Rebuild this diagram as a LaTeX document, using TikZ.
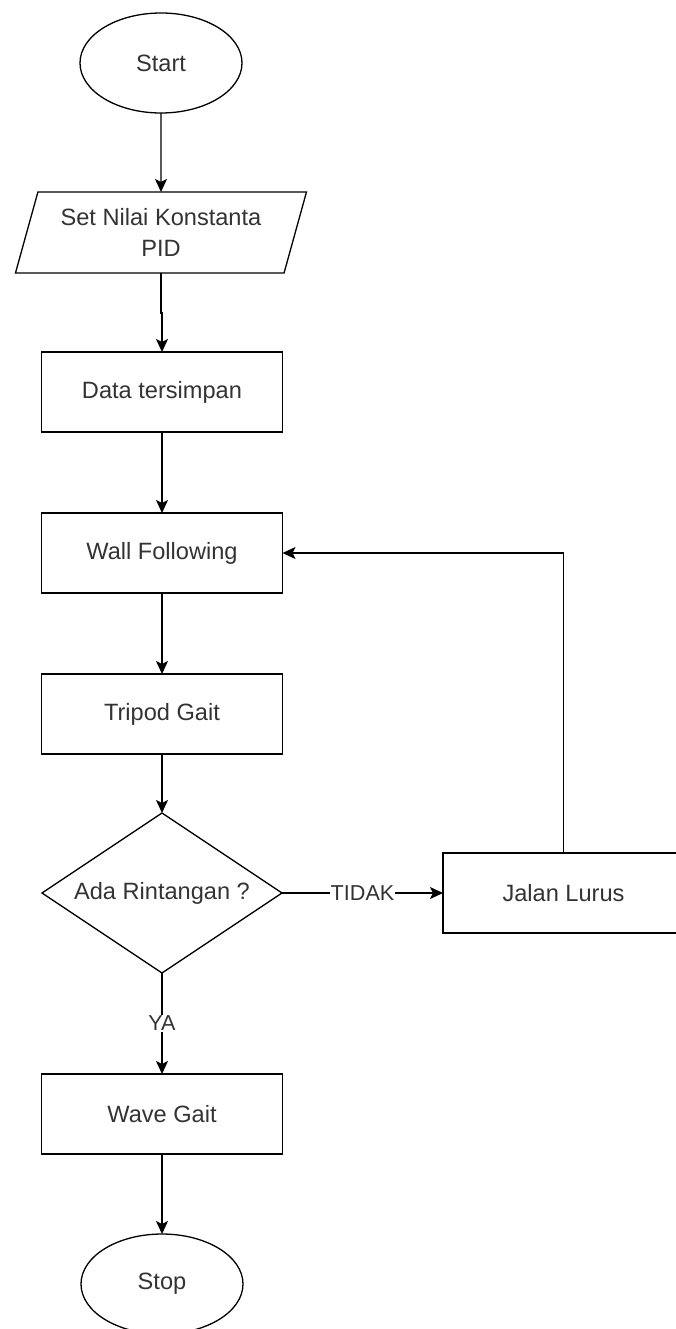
\documentclass[tikz,border=0pt]{standalone}
\usepackage{fontspec}
\setmainfont{Liberation Sans}
\usepackage{tikz}
\usetikzlibrary{shapes.geometric,arrows.meta,positioning}
\definecolor{txt}{RGB}{51, 51, 51}
\tikzstyle{term} = [ellipse, draw=black, line width=1.3pt, text=txt, font=\fontsize{23.6}{28}\selectfont, minimum width=162pt, minimum height=100pt, inner sep=0pt, outer sep=0pt]
\tikzstyle{io} = [trapezium, trapezium left angle=65, trapezium right angle=115, trapezium stretches body, draw=black, line width=1.3pt, text=txt, align=center, font=\fontsize{23.6}{31}\selectfont, minimum width=291pt, minimum height=81pt, inner sep=0pt, outer sep=0pt]
\tikzstyle{proc} = [rectangle, draw=black, line width=1.3pt, text=txt, font=\fontsize{23.6}{28}\selectfont, minimum width=241pt, minimum height=80pt, inner sep=0pt, outer sep=0pt]
\tikzstyle{decision} = [diamond, draw=black, line width=1.3pt, text=txt, font=\fontsize{23.6}{28}\selectfont, aspect=1.5, minimum width=240pt, minimum height=160pt, inner sep=0pt, outer sep=0pt]
\tikzstyle{tedge} = [draw, line width=1.3pt, -{Stealth[length=13pt,width=12pt,inset=3pt]}]
\tikzstyle{elabel} = [fill=white, text=txt, font=\fontsize{21.6}{26}\selectfont, inner sep=1pt]

\begin{document}
\begin{tikzpicture}[x=1pt, y=1pt]

\useasboundingbox (0,0) rectangle (675,-1329);

% main column ==============================

\node[term] (start) at (161,-63) {Start};
\node[io, below=79pt of start] (pid) {Set Nilai Konstanta\\PID};
\node[proc, below=79pt of pid, xshift=1pt] (data) {Data tersimpan};
\node[proc, below=81pt of data] (wall) {Wall Following};
\node[proc, below=81pt of wall] (tripod) {Tripod Gait};
\node[decision, below=59pt of tripod] (cek) {Ada Rintangan ?};
\node[proc, below=101pt of cek] (wave) {Wave Gait};
\node[term, below=80pt of wave] (stop) {Stop};

% side branch
\node[proc, right=161pt of cek] (lurus) {Jalan Lurus};

%edges
\path[tedge] (start) -- (pid);
\path[tedge] (pid.south) -- ++(0,-40) -| (data.north);
\path[tedge] (data) -- (wall);
\path[tedge] (wall) -- (tripod);
\path[tedge] (tripod) -- (cek);
\path[tedge] (cek) -- node[elabel] {TIDAK} (lurus);
\path[tedge] (cek) -- node[elabel] {YA} (wave);
\path[tedge] (wave) -- (stop);
\path[tedge] (lurus.north) |- (wall.east);

\end{tikzpicture}
\end{document}
